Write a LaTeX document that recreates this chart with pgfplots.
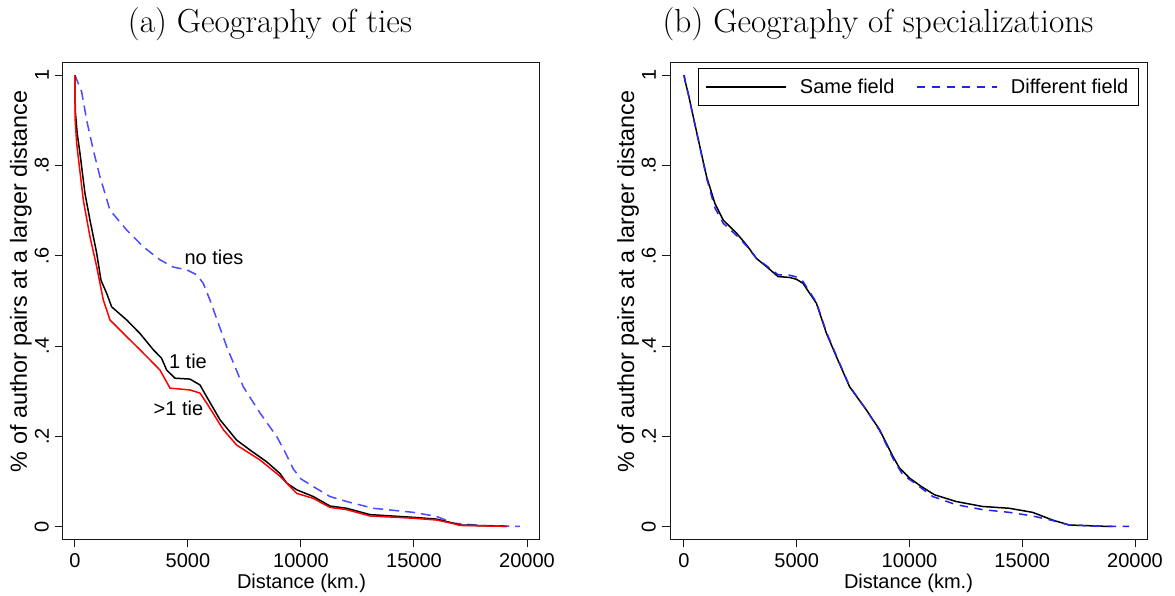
\documentclass[border=0pt]{standalone}
\usepackage{fontspec}
\setsansfont{Liberation Sans}
\usepackage{pgfplots}
\pgfplotsset{compat=1.18}

\definecolor{tieblue}{RGB}{75,75,255}
\definecolor{fieldblue}{RGB}{35,35,235}
\newcommand{\lab}{\sffamily\fontsize{12}{14}\selectfont}
\newcommand{\ylab}{\sffamily\fontsize{14}{16}\selectfont}
\newcommand{\ttl}{\fontsize{20}{24}\selectfont}

\pgfplotsset{
  statapanel/.style={
    scale only axis, width=286.2pt, height=286.2pt,
    ymin=-0.027, ymax=1.029,
    scaled x ticks=false, scaled y ticks=false,
    xtick={0,5000,10000,15000,20000},
    xticklabels={0,5000,10000,15000,20000},
    ytick={0,0.2,0.4,0.6,0.8,1},
    yticklabels={0,.2,.4,.6,.8,1},
    tick align=outside, major tick length=5pt,
    xtick pos=lower, ytick pos=left,
    ticklabel style={font=\lab},
    yticklabel style={rotate=90, anchor=south},
    axis line style={black!90, line width=0.6pt},
    every tick/.style={black!90, line width=0.6pt},
    xlabel={Distance (km.)},
    ylabel={\% of author pairs at a larger distance},
    xlabel style={font=\lab, at={([yshift=-29.4pt]rel axis cs:0.5,0)}, anchor=base},
    ylabel style={font=\ylab, at={([xshift=-21.6pt]rel axis cs:0,0.54)}, anchor=base},
    clip=false,
  },
}

\begin{document}
\begin{tikzpicture}
\path[use as bounding box] (-37.8pt,-33.6pt) rectangle (667.2pt,323.4pt);

% panel (a)
\begin{axis}[statapanel, xmin=-530, xmax=20575]
\addplot[tieblue, line width=0.9pt, dash pattern=on 6pt off 3.6pt] coordinates {
 (0,1.0)(296,0.963)(518,0.900)(810,0.834)(1106,0.775)(1549,0.701)(2288,0.657)
 (3022,0.620)(3761,0.591)(4350,0.575)(4942,0.569)(5385,0.558)(5677,0.539)
 (5973,0.502)(6712,0.399)(7447,0.310)(8186,0.252)(8925,0.200)(9300,0.165)
 (9660,0.128)(10000,0.106)(10545,0.089)(11283,0.067)(12022,0.056)
 (13199,0.041)(14969,0.032)(16004,0.023)(16740,0.008)(17920,0.003)(19690,0.001)
};
\addplot[black, line width=0.9pt] coordinates {
 (0,1.0)(15,0.92)(100,0.87)(221,0.827)(442,0.738)(664,0.679)(960,0.606)
 (1150,0.546)(1401,0.517)(1622,0.487)(2286,0.458)(2876,0.428)(3465,0.392)
 (3834,0.373)(4057,0.347)(4425,0.329)(5088,0.327)(5531,0.314)(5827,0.288)
 (6416,0.237)(7153,0.192)(7743,0.170)(8481,0.144)(9071,0.118)(9366,0.097)
 (9810,0.082)(10545,0.067)(11283,0.046)(12022,0.041)(13053,0.027)(14970,0.021)
 (16004,0.017)(16740,0.008)(17035,0.004)(19100,0.001)
};
\addplot[red, line width=0.9pt] coordinates {
 (0,1.0)(10,0.90)(74,0.849)(369,0.723)(664,0.642)(960,0.576)(1254,0.502)
 (1549,0.458)(2286,0.421)(2876,0.392)(3761,0.347)(4204,0.307)(5088,0.303)
 (5531,0.296)(5827,0.274)(6563,0.215)(7153,0.181)(8186,0.148)(9071,0.112)
 (9810,0.074)(10545,0.063)(11283,0.043)(12022,0.038)(13053,0.024)(14970,0.019)
 (16004,0.015)(16740,0.007)(17035,0.003)(19100,0.001)
};
\node[font=\lab] at (axis cs:6150,0.597) {no ties};
\node[font=\lab] at (axis cs:5000,0.367) {1 tie};
\node[font=\lab] at (axis cs:4580,0.263) {>1 tie};
\end{axis}
\node[font=\ttl, anchor=base] at (124.2pt,304.2pt) {(a) Geography of ties};

% panel (b)
\begin{axis}[statapanel, xshift=364.2pt, xmin=-619, xmax=20531,
  legend style={at={(rel axis cs:0.983,0.987)}, anchor=north east,
    legend columns=2, draw=black, line width=0.6pt, font=\lab,
    inner xsep=4pt, inner ysep=4pt,
    /tikz/every odd column/.append style={column sep=6pt},
    /tikz/every even column/.append style={column sep=11pt}},
  legend image code/.code={\draw[#1] (0pt,0pt) -- (48pt,0pt);},
]
\addplot[black, line width=0.9pt] coordinates {
 (0,1.0)(60,0.985)(190,0.959)(412,0.908)(708,0.841)(1004,0.775)(1372,0.716)
 (1741,0.679)(2332,0.650)(2774,0.624)(3217,0.594)(3659,0.576)(4173,0.554)
 (4690,0.552)(4987,0.548)(5279,0.539)(5600,0.515)(5872,0.495)(6314,0.429)
 (6756,0.377)(7345,0.310)(8084,0.259)(8673,0.215)(9262,0.156)(9558,0.130)
 (10000,0.108)(10500,0.090)(11106,0.071)(12066,0.056)(13243,0.045)(14425,0.041)
 (15456,0.032)(16341,0.015)(17080,0.004)(18702,0.001)(19000,0.001)
};
\addlegendentry{Same field}
\addplot[fieldblue, line width=0.9pt, dash pattern=on 5pt off 4pt] coordinates {
 (0,1.0)(60,0.985)(190,0.958)(412,0.907)(708,0.840)(1004,0.772)(1372,0.706)
 (1741,0.672)(2332,0.645)(2774,0.622)(3217,0.594)(3659,0.578)(4173,0.558)
 (4690,0.557)(4987,0.553)(5279,0.543)(5600,0.518)(5872,0.497)(6314,0.431)
 (6756,0.379)(7345,0.311)(8084,0.259)(8673,0.213)(9262,0.152)(9703,0.115)
 (10200,0.098)(11031,0.067)(12066,0.049)(13243,0.038)(14425,0.032)(15456,0.024)
 (16341,0.014)(17080,0.004)(18702,0.001)(19735,0.001)
};
\addlegendentry{Different field}
\end{axis}
\node[font=\ttl, anchor=base] at (489pt,304.2pt) {(b) Geography of specializations};
\end{tikzpicture}
\end{document}
